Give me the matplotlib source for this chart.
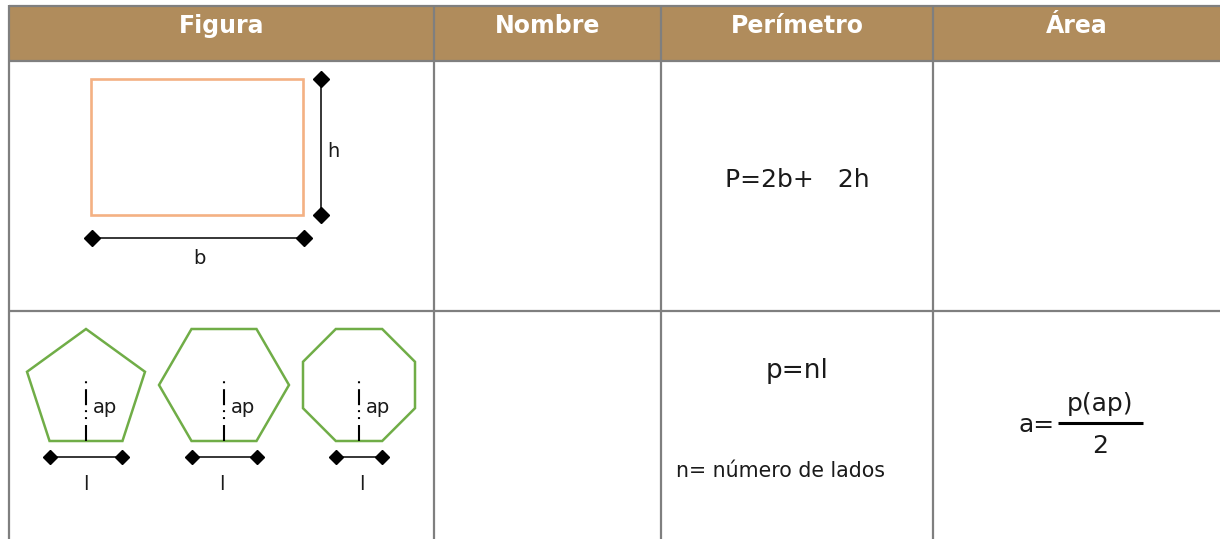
import numpy as np
import matplotlib.pyplot as plt
from matplotlib.patches import Rectangle, Polygon

# table content
headers = ['Figura', 'Nombre', 'Perímetro', 'Área']
poly_sides = [5, 6, 8]
dim_labels_rect = ['b', 'h']
side_label = 'l'
apothem_label = 'ap'
rect_formula = 'P=2b+   2h'
poly_formula = 'p=nl'
poly_note = 'n= número de lados'
area_lhs = 'a='
area_num = 'p(ap)'
area_den = '2'

# layout (pixels)
col_edges = [9, 434, 661, 933, 1220]
row_edges = [6, 61, 311, 539]

HEADER = '#B08C5C'
GRID = '#7F7F7F'
ORANGE = '#F4B183'
GREEN = '#70AD47'
INK = '#1a1a1a'

plt.rcParams['font.family'] = ['DejaVu Sans']
plt.rcParams['lines.scale_dashes'] = False

fig = plt.figure(figsize=(12.2, 5.39), dpi=100)
ax = fig.add_axes([0, 0, 1, 1])
ax.set_xlim(0, 1220)
ax.set_ylim(539, 0)
ax.axis('off')


def regular_polygon(n, cx, bottom, width, height):
    # regular n-gon with a flat bottom edge, fitted into a box
    k = np.arange(n)
    ang = -np.pi / 2 + np.pi / n + 2 * np.pi * k / n
    x = np.cos(ang)
    y = np.sin(ang)
    x = (x - x.min()) / (x.max() - x.min())
    y = (y - y.min()) / (y.max() - y.min())
    px = cx + (x - 0.5) * width
    py = bottom - y * height
    return np.column_stack([px, py])


def dim_line(x0, y0, x1, y1, ms):
    ax.plot([x0, x1], [y0, y1], color='black', lw=1.1, marker='D',
            ms=ms, mfc='black', mec='black', solid_capstyle='butt')


# header band
ax.add_patch(Rectangle((col_edges[0], row_edges[0]), col_edges[-1] - col_edges[0],
                       row_edges[1] - row_edges[0], facecolor=HEADER, edgecolor='none'))
for i, h in enumerate(headers):
    cx = (col_edges[i] + col_edges[i + 1]) / 2
    ax.text(cx, 33, h, color='white', fontsize=17, fontweight='bold',
            ha='center', va='baseline')

# grid lines
for y in row_edges[:3]:
    ax.plot([col_edges[0], col_edges[-1]], [y, y], color=GRID, lw=1.6,
            solid_capstyle='butt')
for x in col_edges[:4]:
    ax.plot([x, x], [row_edges[0] - 0.8, row_edges[-1]], color=GRID, lw=1.6,
            solid_capstyle='butt')

# rectangle row
rx0, ry0, rw, rh = 91, 79, 212, 136
ax.add_patch(Rectangle((rx0, ry0), rw, rh, facecolor='none', edgecolor=ORANGE, lw=1.9))
dim_line(321, ry0, 321, ry0 + rh, 8)
dim_line(rx0 + 1, 238, rx0 + rw + 1, 238, 8)
ax.text(327, 157, dim_labels_rect[1], fontsize=14, color=INK, ha='left', va='baseline')
ax.text(199, 264, dim_labels_rect[0], fontsize=14, color=INK, ha='center', va='baseline')
ax.text(797, 187, rect_formula, fontsize=18, color=INK, ha='center', va='baseline')

# polygon row
poly_cx = [86, 224, 359]
poly_w = [118, 130, 112]
poly_bottom = 441
poly_h = 112
label_x = [86, 222, 362]
for n, cx, w, lx in zip(poly_sides, poly_cx, poly_w, label_x):
    verts = regular_polygon(n, cx, poly_bottom, w, poly_h)
    ax.add_patch(Polygon(verts, closed=True, facecolor='none', edgecolor=GREEN,
                         lw=1.8, joinstyle='miter'))
    bottom_x = np.sort(verts[np.isclose(verts[:, 1], poly_bottom), 0])
    dim_line(bottom_x[0], 457, bottom_x[-1], 457, 7)
    ln, = ax.plot([cx, cx], [poly_bottom, 380], color='black', lw=1.5)
    ln.set_dashes([11.5, 4.3, 1.4, 3.6, 1.4, 3.6])
    ax.text(cx + 7, 413, apothem_label, fontsize=14, color=INK, ha='left', va='baseline')
    ax.text(lx, 490, side_label, fontsize=14, color=INK, ha='center', va='baseline')

ax.text(797, 378, poly_formula, fontsize=19, color=INK, ha='center', va='baseline')
ax.text(676, 477, poly_note, fontsize=14.8, color=INK, ha='left', va='baseline')

# area formula
ax.text(1018, 432, area_lhs, fontsize=18, color=INK, ha='left', va='baseline')
ax.text(1100, 411, area_num, fontsize=18, color=INK, ha='center', va='baseline')
ax.plot([1058, 1143], [423, 423], color='black', lw=2.2, solid_capstyle='butt')
ax.text(1100, 453, area_den, fontsize=18, color=INK, ha='center', va='baseline')

fig.savefig('out.png', dpi=100)
